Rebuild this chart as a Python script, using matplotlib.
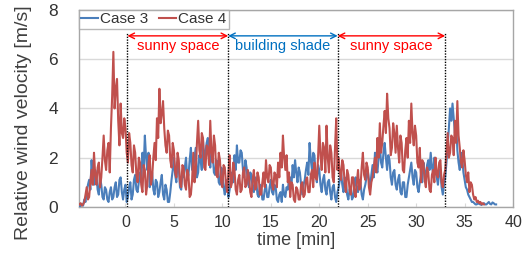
import numpy as np
import matplotlib
matplotlib.use("Agg")
import matplotlib.pyplot as plt

plt.rcParams['font.family'] = ['Liberation Sans', 'DejaVu Sans']

# sampling of both series (minutes)
t0 = -4.75
dt = 0.125

case4 = [0.1, 0.15, 0.05, 0.1, 0.2, 0.5, 0.8, 0.3, 0.4, 1.0,
         1.5, 0.9, 2.2, 1.3, 0.9, 1.6, 1.8, 0.8, 1.2, 2.0,
         2.9, 1.9, 1.5, 2.3, 2.6, 1.4, 3.2, 4.5, 6.3, 4.0,
         4.8, 5.2, 3.5, 2.5, 4.2, 3.0, 2.8, 3.6, 3.2, 2.2,
         1.8, 3.0, 2.6, 1.7, 1.4, 2.5, 2.2, 1.3, 1.0, 2.0,
         1.8, 0.9, 0.6, 1.7, 1.5, 0.5, 0.9, 1.8, 2.1, 0.9,
         1.2, 2.0, 2.6, 1.9, 3.6, 2.8, 4.8, 3.4, 3.8, 4.3,
         3.2, 2.5, 2.2, 3.1, 2.9, 1.9, 1.6, 2.6, 2.3, 1.4,
         1.2, 2.2, 1.9, 1.0, 0.8, 1.7, 1.6, 0.9, 0.7, 1.5,
         1.3, 0.4, 0.5, 1.1, 2.2, 1.0, 1.4, 2.6, 3.5, 2.3,
         2.0, 3.0, 2.8, 1.6, 1.5, 2.5, 2.4, 1.7, 3.5, 2.2,
         1.8, 2.9, 2.5, 1.3, 1.2, 2.2, 1.9, 1.0, 0.8, 1.7,
         1.6, 0.9, 0.6, 1.4, 2.1, 0.8, 1.0, 1.8, 1.5, 0.7,
         0.5, 1.1, 1.3, 0.6, 0.7, 1.4, 1.6, 0.8, 0.9, 1.5,
         1.2, 0.6, 0.4, 1.1, 1.5, 0.7, 0.8, 1.4, 1.2, 0.5,
         0.5, 1.0, 1.4, 0.8, 1.9, 1.2, 1.0, 1.7, 1.6, 0.9,
         0.7, 1.4, 1.3, 0.8, 1.8, 1.2, 2.2, 1.6, 2.9, 2.0,
         1.5, 2.1, 1.0, 1.4, 0.4, 1.0, 0.9, 0.3, 0.2, 0.8,
         0.7, 0.3, 0.3, 0.9, 1.0, 0.4, 0.5, 1.1, 1.2, 0.6,
         0.6, 1.3, 1.5, 0.8, 1.8, 1.2, 1.1, 2.0, 3.3, 2.1,
         1.5, 2.6, 2.4, 1.4, 3.3, 2.0, 1.4, 2.5, 2.2, 1.2,
         1.0, 2.4, 3.6, 1.5, 2.0, 1.4, 1.1, 1.9, 1.7, 0.9,
         0.6, 1.5, 1.3, 0.7, 0.5, 1.2, 1.2, 0.6, 0.4, 1.0,
         1.5, 0.7, 0.8, 1.6, 2.2, 1.3, 1.1, 1.8, 1.6, 0.8,
         0.5, 1.0, 1.2, 1.6, 2.0, 1.4, 2.8, 2.0, 3.4, 2.2,
         2.6, 3.3, 3.9, 3.0, 4.6, 3.6, 3.2, 2.1, 2.4, 3.4,
         3.0, 2.2, 3.3, 2.4, 1.8, 2.9, 2.6, 1.5, 1.4, 2.3,
         2.8, 2.0, 3.5, 2.6, 4.2, 3.0, 2.5, 3.3, 2.9, 1.8,
         1.6, 2.4, 1.0, 1.9, 1.8, 1.1, 0.8, 1.6, 1.4, 0.7,
         0.6, 1.3, 1.5, 1.0, 2.0, 1.3, 1.2, 1.8, 1.9, 1.0,
         0.8, 1.3, 1.5, 2.2, 3.0, 2.0, 2.2, 2.9, 2.8, 2.1,
         3.5, 2.6, 4.3, 2.9, 2.4, 1.8, 1.6, 2.3, 1.9, 1.3,
         1.0, 1.4, 0.6, 1.0, 0.9, 0.5, 0.3, 0.4, 0.2, 0.25,
         0.15, 0.2, 0.1, 0.15, 0.1]

case3 = [0.0, 0.05, 0.1, 0.05, 0.3, 0.2, 0.6, 0.9, 1.1, 0.7,
         1.9, 1.2, 0.9, 1.5, 1.3, 0.7, 0.5, 1.2, 0.9, 0.4,
         0.3, 0.8, 0.7, 0.3, 0.2, 0.6, 0.8, 0.3, 0.4, 0.8,
         1.0, 0.4, 0.5, 1.1, 1.2, 0.6, 0.3, 0.7, 0.9, 0.2,
         0.4, 0.8, 1.0, 0.3, 0.5, 1.1, 1.3, 0.7, 0.6, 1.0,
         1.4, 1.0, 2.2, 1.6, 2.9, 2.0, 1.5, 2.2, 0.8, 1.3,
         1.4, 0.7, 0.5, 1.1, 1.0, 0.4, 0.6, 1.0, 1.3, 0.5,
         0.3, 0.9, 0.7, 0.2, 0.2, 0.6, 1.1, 1.5, 2.0, 1.3,
         1.0, 1.8, 1.6, 0.8, 0.7, 1.4, 1.2, 1.6, 2.0, 1.1,
         1.3, 1.9, 2.4, 1.5, 1.6, 2.0, 2.4, 1.2, 1.4, 2.1,
         1.9, 1.5, 2.7, 1.9, 2.2, 2.6, 2.8, 2.0, 1.6, 2.3,
         2.2, 1.4, 1.3, 1.9, 1.8, 1.0, 0.9, 1.6, 1.5, 0.8,
         0.5, 1.0, 1.1, 0.4, 0.7, 1.2, 1.4, 1.0, 2.1, 1.5,
         2.5, 1.8, 1.8, 2.3, 2.2, 1.5, 1.2, 1.9, 1.6, 1.0,
         0.8, 1.4, 1.3, 0.7, 0.6, 1.2, 1.0, 0.5, 0.4, 0.9,
         0.8, 0.3, 0.3, 0.7, 0.9, 0.4, 0.4, 0.8, 1.1, 0.6,
         0.5, 0.9, 0.8, 0.3, 0.2, 0.5, 0.6, 0.2, 0.9, 0.5,
         0.4, 0.8, 0.7, 1.1, 1.2, 0.8, 1.7, 1.2, 1.9, 1.4,
         1.0, 1.6, 1.4, 0.9, 0.5, 0.9, 1.1, 1.5, 1.8, 1.3,
         2.6, 1.9, 1.5, 2.2, 2.1, 1.3, 1.0, 1.7, 1.5, 0.9,
         0.6, 1.1, 1.3, 0.7, 0.5, 1.0, 1.1, 0.6, 0.3, 0.8,
         0.9, 0.4, 0.2, 0.6, 0.8, 1.1, 1.4, 0.9, 0.6, 1.2,
         1.0, 0.5, 0.3, 0.7, 0.8, 0.3, 0.4, 0.9, 1.2, 0.7,
         0.6, 1.1, 1.0, 0.5, 0.3, 0.7, 0.9, 1.2, 1.5, 1.1,
         0.8, 1.3, 1.7, 1.2, 2.2, 1.6, 1.4, 2.0, 2.5, 1.8,
         1.6, 2.2, 2.6, 2.0, 1.5, 2.1, 1.9, 1.2, 0.9, 1.4,
         1.5, 0.9, 0.7, 1.1, 1.3, 0.6, 0.5, 1.0, 1.0, 0.4,
         0.4, 0.9, 1.2, 1.5, 1.8, 1.2, 0.9, 1.5, 1.4, 0.8,
         0.6, 1.0, 1.3, 1.0, 1.8, 1.4, 1.2, 1.7, 1.9, 1.5,
         2.2, 1.6, 1.4, 2.0, 1.8, 1.2, 0.9, 1.5, 1.4, 0.8,
         0.5, 0.9, 1.2, 1.8, 2.5, 3.2, 4.0, 3.5, 4.2, 3.6,
         3.0, 3.4, 2.3, 1.8, 1.5, 2.2, 2.0, 1.4, 1.1, 0.8,
         0.7, 0.5, 0.4, 0.3, 0.2, 0.2, 0.15, 0.1, 0.1, 0.15,
         0.12, 0.1, 0.08, 0.12, 0.15, 0.1, 0.1, 0.15, 0.2, 0.12,
         0.1, 0.18, 0.15, 0.1, 0.1]

# zone boundaries (minutes) and labels
boundaries = [0.2, 10.6, 21.9, 33.0]
zone_labels = ["sunny space", "building shade", "sunny space"]
zone_colors = ["#ff0000", "#0070c0", "#ff0000"]

x_ticks = [0, 5, 10, 15, 20, 25, 30, 35, 40]
y_ticks = [0, 2, 4, 6, 8]

time3 = t0 + dt * np.arange(len(case3))
time4 = t0 + dt * np.arange(len(case4))

fig = plt.figure(figsize=(5.23, 2.57), dpi=100)
ax = fig.add_axes([0.151, 0.195, 0.830, 0.766])

ax.plot(time3, case3, color="#4a7ebb", lw=1.5, label="Case 3", zorder=3)
ax.plot(time4, case4, color="#c0504d", lw=1.5, label="Case 4", zorder=4)

ax.set_xlim(-4.8, 40)
ax.set_ylim(0, 8)
ax.set_xticks(x_ticks)
ax.set_yticks(y_ticks)
ax.yaxis.grid(True, color="#d9d9d9", lw=1.0)
ax.set_axisbelow(True)
for s in ax.spines.values():
    s.set_color("#a6a6a6")
    s.set_linewidth(1.0)
ax.tick_params(axis="y", length=0, labelsize=12.5, colors="#333333", pad=15)
ax.tick_params(axis="x", direction="in", length=3, color="#d9d9d9", labelsize=11.5,
               labelcolor="#333333", pad=6)

arrow_y = 6.95
for b in boundaries:
    ax.plot([b, b], [0, 7.1], ls=(0, (1, 1)), color="black", lw=1.0, zorder=5)
for i, (lab, col) in enumerate(zip(zone_labels, zone_colors)):
    a, b = boundaries[i], boundaries[i + 1]
    ax.annotate("", xy=(b, arrow_y), xytext=(a, arrow_y),
                arrowprops=dict(arrowstyle="<->", color=col, lw=1.0, shrinkA=0, shrinkB=0,
                                mutation_scale=10), zorder=6)
    ax.text((a + b) / 2, 6.55, lab, color=col, ha="center", va="center", fontsize=10.5)

ax.set_xlabel("time [min]", fontsize=13, color="#404040", labelpad=1)
ax.set_ylabel("Relative wind velocity [m/s]", fontsize=14, color="#404040")
ax.yaxis.set_label_coords(-0.108, 0.426)

leg = ax.legend(loc="upper left", ncol=2, frameon=True, fontsize=11, borderaxespad=0,
                handlelength=1.1, handletextpad=0.15, columnspacing=0.7, borderpad=0.15,
                fancybox=False)
leg.get_frame().set_edgecolor("#a6a6a6")
leg.get_frame().set_linewidth(1.0)
for txt in leg.get_texts():
    txt.set_color("#333333")

fig.savefig("out.png", dpi=100)
